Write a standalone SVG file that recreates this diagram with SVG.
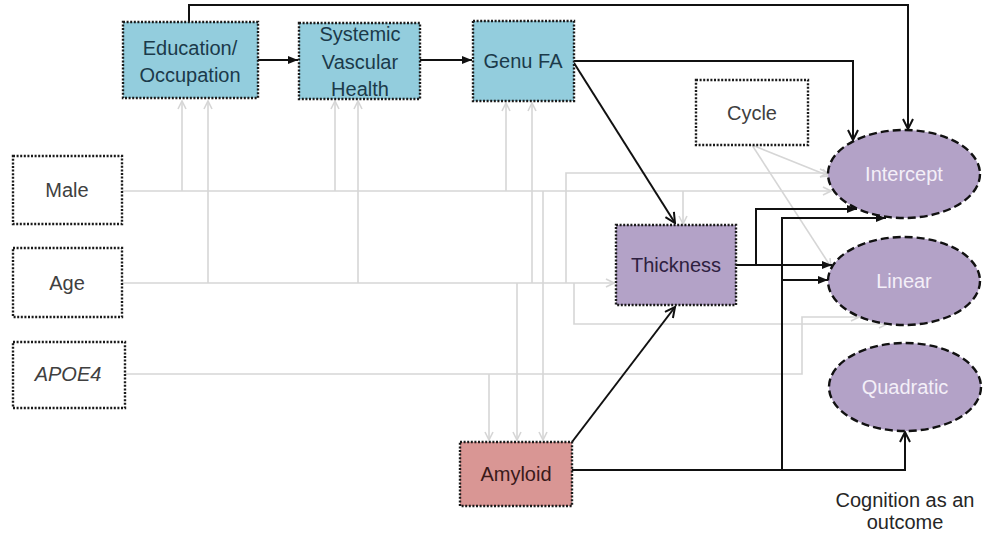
<svg xmlns="http://www.w3.org/2000/svg" width="987" height="535" viewBox="0 0 987 535">
<style>
.box{stroke:#1a1a1a;stroke-width:2.4;stroke-dasharray:2 1.6}
.ell{fill:#b3a2c7;stroke:#111;stroke-width:2.4;stroke-dasharray:8 4}
.blue{fill:#93cddd}
.white{fill:#ffffff}
.t{font-family:"Liberation Sans",Arial,sans-serif;font-size:20px;text-anchor:middle}
.tb{fill:#1b3a4a}
.tg{fill:#404040}
.tw{fill:#f4eff8}
.g{fill:none;stroke:#d6d6d6;stroke-width:1.6}
.b{fill:none;stroke:#111;stroke-width:2}
</style>
<defs>
<marker id="ga" viewBox="0 0 10 10" refX="9" refY="5" markerWidth="10" markerHeight="10" markerUnits="userSpaceOnUse" orient="auto"><path d="M1,1 L9,5 L1,9" fill="none" stroke="#d6d6d6" stroke-width="1.6"/></marker>
<marker id="bo" viewBox="0 0 12 12" refX="11" refY="6" markerWidth="12" markerHeight="12" markerUnits="userSpaceOnUse" orient="auto"><path d="M1,1 L11,6 L1,11" fill="none" stroke="#111" stroke-width="2"/></marker>
<marker id="bf" viewBox="0 0 10 10" refX="10" refY="5" markerWidth="10" markerHeight="10" markerUnits="userSpaceOnUse" orient="auto"><path d="M0,1 L10,5 L0,9 z" fill="#111"/></marker>
</defs>
<g id="connectors">
<g id="gray">
<path class="g" d="M122,191 H831" marker-end="url(#ga)"/>
<path class="g" d="M182,191 V101" marker-end="url(#ga)"/>
<path class="g" d="M335,191 V101" marker-end="url(#ga)"/>
<path class="g" d="M506,191 V103" marker-end="url(#ga)"/>
<path class="g" d="M543,191 V440" marker-end="url(#ga)"/>
<path class="g" d="M683,191 V224" marker-end="url(#ga)"/>
<path class="g" d="M122,283 H614" marker-end="url(#ga)"/>
<path class="g" d="M208,283 V101" marker-end="url(#ga)"/>
<path class="g" d="M358,283 V101" marker-end="url(#ga)"/>
<path class="g" d="M532,283 V103" marker-end="url(#ga)"/>
<path class="g" d="M517,283 V440" marker-end="url(#ga)"/>
<path class="g" d="M566,283 V173 H828" marker-end="url(#ga)"/>
<path class="g" d="M574,283 V324 H887" marker-end="url(#ga)"/>
<path class="g" d="M125,374 H802 V317 H859" marker-end="url(#ga)"/>
<path class="g" d="M489,374 V440" marker-end="url(#ga)"/>
<path class="g" d="M752,145 L829,176" marker-end="url(#ga)"/>
<path class="g" d="M752,145 L831,267" marker-end="url(#ga)"/>
</g>
<g id="black">
<path class="b" d="M189,22 V5 H908 V129" marker-end="url(#bo)"/>
<path class="b" d="M258,60 H298" marker-end="url(#bf)"/>
<path class="b" d="M420,60 H472" marker-end="url(#bf)"/>
<path class="b" d="M574,61 H853 V140" marker-end="url(#bo)"/>
<path class="b" d="M574,63 L675,223" marker-end="url(#bo)"/>
<path class="b" d="M572,442 L675,307" marker-end="url(#bo)"/>
<path class="b" d="M736,265 H832" marker-end="url(#bf)"/>
<path class="b" d="M756,265 V209 H857" marker-end="url(#bf)"/>
<path class="b" d="M572,470 H905 V432" marker-end="url(#bo)"/>
<path class="b" d="M782,470 V218 H886" marker-end="url(#bf)"/>
<path class="b" d="M782,280 H828" marker-end="url(#bf)"/>
</g>
</g>
<g id="education"><rect class="box blue" x="123" y="22" width="135" height="76"/><text class="t tb" x="190" y="55">Education/</text><text class="t tb" x="190" y="82">Occupation</text></g>
<g id="systemic"><rect class="box blue" x="299" y="23" width="121" height="76"/><text class="t tb" x="360" y="41">Systemic</text><text class="t tb" x="360" y="69">Vascular</text><text class="t tb" x="360" y="96">Health</text></g>
<g id="genu"><rect class="box blue" x="473" y="21" width="101" height="80"/><text class="t tb" x="523" y="68">Genu FA</text></g>
<g id="cycle"><rect class="box white" x="696" y="80" width="112" height="65"/><text class="t tg" x="752" y="120">Cycle</text></g>
<g id="male"><rect class="box white" x="13" y="156" width="109" height="68"/><text class="t tg" x="67" y="197">Male</text></g>
<g id="age"><rect class="box white" x="13" y="248" width="109" height="69"/><text class="t tg" x="67" y="290">Age</text></g>
<g id="apoe4"><rect class="box white" x="13" y="342" width="112" height="66"/><text class="t tg" x="68" y="381" font-style="italic">APOE4</text></g>
<g id="thickness"><rect class="box" fill="#b3a2c7" x="616" y="225" width="120" height="80"/><text class="t" fill="#2e2040" x="676" y="272">Thickness</text></g>
<g id="amyloid"><rect class="box" fill="#d99694" x="460" y="442" width="112" height="64"/><text class="t" fill="#3a1a1a" x="516" y="481">Amyloid</text></g>
<g id="intercept"><ellipse class="ell" cx="904" cy="174" rx="76" ry="44"/><text class="t tw" x="904" y="181">Intercept</text></g>
<g id="linear"><ellipse class="ell" cx="904" cy="281" rx="76" ry="44"/><text class="t tw" x="904" y="288">Linear</text></g>
<g id="quadratic"><ellipse class="ell" cx="905" cy="387" rx="76" ry="44"/><text class="t tw" x="905" y="394">Quadratic</text></g>
<g id="caption"><text class="t" fill="#262626" x="905" y="507">Cognition as an</text><text class="t" fill="#262626" x="905" y="529">outcome</text></g>
</svg>
